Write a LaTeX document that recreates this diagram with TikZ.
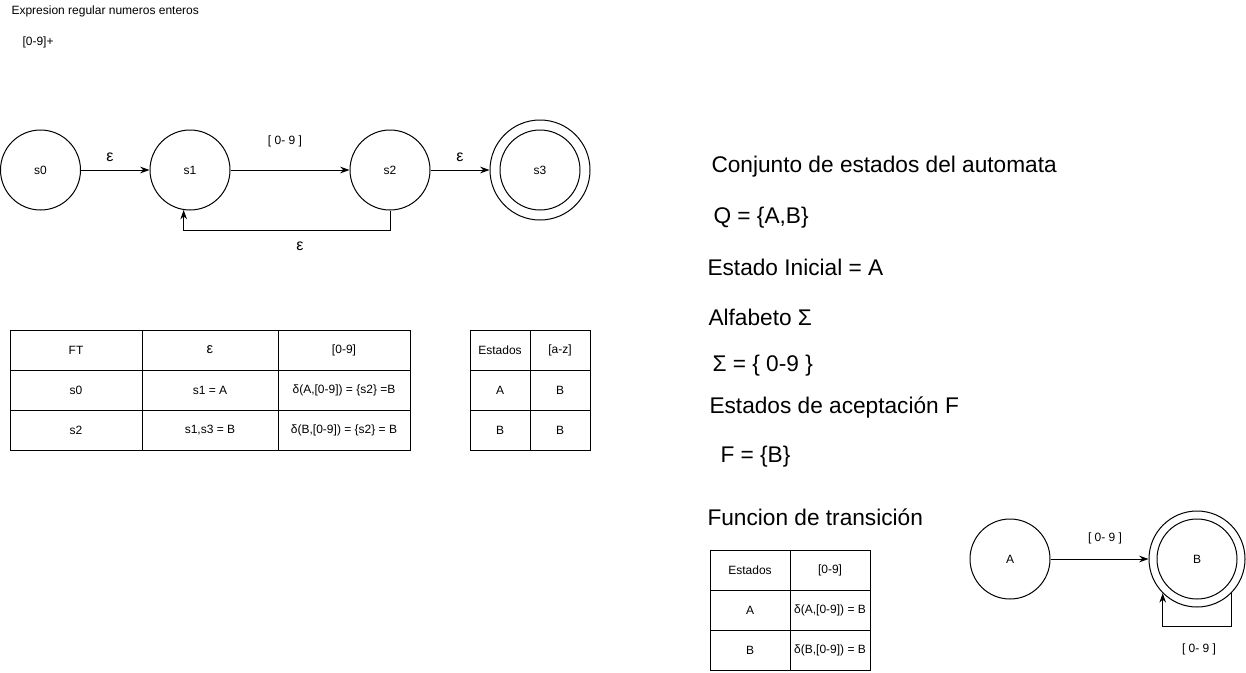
\documentclass[tikz,border=0pt]{standalone}
\usepackage{fontspec}
\setmainfont{Liberation Sans}
\usetikzlibrary{arrows.meta}

\begin{document}
\begin{tikzpicture}[x=0.75pt,y=-0.75pt,line width=0.75pt,>={Stealth[length=7pt,width=5pt]},
  estado/.style={draw,circle,minimum size=60pt,inner sep=0pt,font=\fontsize{9}{11}\selectfont},
  texto/.style={anchor=west,inner sep=0pt,font=\fontsize{9}{11}\selectfont},
  grande/.style={anchor=west,inner sep=0pt,yshift=-1.5pt,font=\fontsize{17}{20}\selectfont},
  eps/.style={font=\fontsize{12}{14}\selectfont},
  celda/.style={inner sep=0pt,font=\fontsize{9}{11}\selectfont}]
\useasboundingbox (0,0) rectangle (1246,672);
% expresion regular
\node[texto] (titulo) at (11,11) {Expresion regular numeros enteros};
\node[texto] (regex) at (22,42) {[0-9]+};

% automata con transiciones epsilon
\node[estado] (s0) at (40.5,170) {s0};
\node[estado] (s1) at (190,170) {s1};
\node[estado] (s2) at (390,170) {s2};
\node[estado,minimum size=75pt] (s3) at (540,170) {s3};
\draw (s3.center) circle[radius=30pt];
\draw[->] (s0) -- (s1) node[eps] (e01) at (110,157) {ε};
\draw[->] (s1) -- (s2) node[celda] (e12) at (285,141) {[ 0- 9 ]};
\draw[->] (s2) -- (s3) node[eps] (e23) at (460,157) {ε};
\draw[->] (s2.south) -- ++(0,20) -| (s1.261);
\node[eps] (e21) at (300,246) {ε};

% tabla FT
\draw (10,330) rectangle (410,450);
\foreach \y in {370,410} \draw (10,\y) -- (410,\y);
\foreach \x in {142,278} \draw (\x,330) -- (\x,450);
\foreach \a/\b/\c [count=\i] in {FT/{\fontsize{11}{13}\selectfont ε}/[0-9], s0/s1 = A/{δ(A,[0-9]) = \{s2\} =B}, s2/{s1,s3 = B}/{δ(B,[0-9]) = \{s2\} = B}}
{
  \node[celda] (ft\i a) at (76,310+40*\i) {\a};
  \node[celda] (ft\i b) at (210,310+40*\i) {\b};
  \node[celda] (ft\i c) at (344,310+40*\i) {\c};
}

% tabla estados
\draw (470,330) rectangle (590,450);
\foreach \y in {370,410} \draw (470,\y) -- (590,\y);
\draw (530,330) -- (530,450);
\foreach \a/\b [count=\i] in {Estados/[a-z], A/B, B/B}
{
  \node[celda] (te\i a) at (500,310+40*\i) {\a};
  \node[celda] (te\i b) at (560,310+40*\i) {\b};
}

% definicion del automata
\node[grande] (conj) at (711,165) {Conjunto de estados del automata};
\node[grande] (q) at (713,216) {Q = \{A,B\}};
\node[grande] (ini) at (707,265) {Estado Inicial = A};
\node[grande] (alf) at (708,315) {Alfabeto Σ};
\node[grande] (sig) at (712,364) {Σ = \{ 0-9 \}};
\node[grande] (acep) at (709,405) {Estados de aceptación F};
\node[grande] (f) at (720,455) {F = \{B\}};
\node[grande] (func) at (707,515) {Funcion de transición};

% tabla de transicion
\draw (710,550) rectangle (870,670);
\foreach \y in {590,630} \draw (710,\y) -- (870,\y);
\draw (790,550) -- (790,670);
\foreach \a/\b [count=\i] in {Estados/[0-9], A/{δ(A,[0-9]) = B}, B/{δ(B,[0-9]) = B}}
{
  \node[celda] (tt\i a) at (750,530+40*\i) {\a};
  \node[celda] (tt\i b) at (830,530+40*\i) {\b};
}

% automata minimo
\node[estado] (A) at (1010,559) {A};
\node[estado,minimum size=72pt] (B) at (1197,559) {B};
\draw (B.center) circle[radius=30pt];
\draw[->] (A) -- (B) node[celda] (eab) at (1105,538) {[ 0- 9 ]};
\draw[->] (B.-45) -- ++(0,33) -| (B.225);
\node[celda] (ebb) at (1199,649) {[ 0- 9 ]};
\end{tikzpicture}
\end{document}
